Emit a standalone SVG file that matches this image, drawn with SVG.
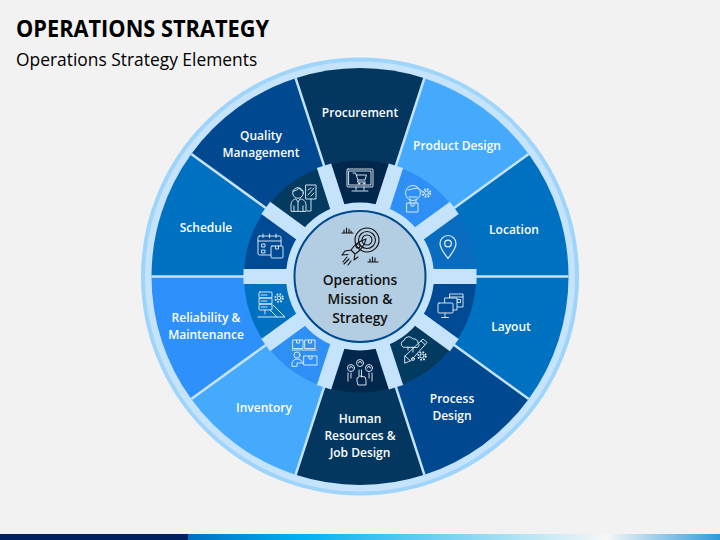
<svg xmlns="http://www.w3.org/2000/svg" width="720" height="540" viewBox="0 0 720 540">
<defs>
<linearGradient id="bar" x1="0" x2="1" y1="0" y2="0">
<stop offset="0" stop-color="#0070C0"/><stop offset="0.21" stop-color="#00B0F0"/><stop offset="0.786" stop-color="#F7F7F7"/><stop offset="1" stop-color="#2E9BDC"/>
</linearGradient>
</defs>
<style>
text{font-family:"Open Sans","Liberation Sans",sans-serif}
.l{font-size:12px;font-weight:600;fill:#fff;text-anchor:middle}
.c{font-size:13.8px;font-weight:600;fill:#111;text-anchor:middle}
.i{fill:none;stroke:#E8F1F8;stroke-width:.9;stroke-linejoin:round;stroke-linecap:round}
.k{fill:none;stroke:#111;stroke-width:1.1;stroke-linejoin:round;stroke-linecap:round}
.b{stroke:#C5E3FB;stroke-width:15;fill:none}
.t{stroke:#C5E3FB;stroke-width:2.5;fill:none}
.g{stroke-dasharray:1.6 1.4;stroke-width:1.8;stroke-linecap:butt}
</style>
<rect width="720" height="540" fill="#F2F2F2"/>
<rect x="0" y="534" width="188" height="6" fill="#002060"/>
<rect x="188" y="534" width="532" height="6" fill="url(#bar)"/>
<text x="16" y="36.500" font-size="23" font-weight="700" fill="#000" textLength="253" lengthAdjust="spacingAndGlyphs">OPERATIONS STRATEGY</text>
<text x="16" y="66" font-size="17.400" fill="#000">Operations Strategy Elements</text>
<circle cx="360" cy="276.500" r="217" fill="#C5E3FB" stroke="#9FD4FB" stroke-width="4"/>
<g id="n-procurement"><path fill="#03375F" d="M360 276.500L295.600 78.200A208.500 208.500 0 0 1 424.400 78.200Z"/><path fill="#02274D" d="M360 276.500L324.200 166.200A116 116 0 0 1 395.800 166.200Z"/>
<text class="l" x="360" y="117">Procurement</text>
<g class="i"><rect x="347" y="169" width="26" height="18" rx="1"/><rect x="349" y="171" width="22" height="14"/><path d="M356 187v3M364 187v3M352 191h16M353 173h2.500l2.500 7h7l1.500-5h-10M358 180l-.5 2h8"/><circle cx="359" cy="183.500" r=".8"/><circle cx="364" cy="183.500" r=".8"/></g></g>
<g id="n-product-design"><path fill="#45AAFC" d="M360 276.500L424.400 78.200A208.500 208.500 0 0 1 528.700 154Z"/><path fill="#2E90F5" d="M360 276.500L395.800 166.200A116 116 0 0 1 453.800 208.300Z"/>
<text class="l" x="457" y="150">Product Design</text>
<g class="i"><circle cx="413" cy="193" r="7.500"/><path d="M408 190l9-2 5 3M410 199v4M416 199v4M409 197h8M407 203h11v9h-11zM411 203v3h3v-3"/><circle cx="426.500" cy="193" r="2"/><circle class="g" cx="426.500" cy="193" r="3.800"/></g></g>
<g id="n-location"><path fill="#0070C0" d="M360 276.500L528.700 154A208.500 208.500 0 0 1 568.500 276.500Z"/><path fill="#0A6CBE" d="M360 276.500L453.800 208.300A116 116 0 0 1 476 276.500Z"/>
<text class="l" x="514" y="234">Location</text>
<g class="i" style="stroke-width:1.200"><path d="M448 258.500c-4-5.500-8-10-8-15a8 8 0 0 1 16 0c0 5-4 9.500-8 15z"/><circle cx="448" cy="243.500" r="3.300"/></g></g>
<g id="n-layout"><path fill="#0070C0" d="M360 276.500L568.500 276.500A208.500 208.500 0 0 1 528.700 399Z"/><path fill="#004A94" d="M360 276.500L476 276.500A116 116 0 0 1 453.800 344.700Z"/>
<text class="l" x="511" y="331">Layout</text>
<g class="i"><rect x="450" y="294" width="13" height="13" fill="#004A94"/><path d="M450 297h13M452.500 299.500h3v3h-3zM457.500 299.500h3v3h-3z"/><rect x="445" y="298" width="12" height="12" fill="#004A94"/><rect x="438" y="303" width="15" height="10" rx="1" fill="#004A94"/><path d="M445 313v4M441.500 317.500h7"/></g></g>
<g id="n-process-design"><path fill="#004990" d="M360 276.500L528.700 399A208.500 208.500 0 0 1 424.400 474.800Z"/><path fill="#033A60" d="M360 276.500L453.800 344.700A116 116 0 0 1 395.800 386.800Z"/>
<text class="l" x="452" y="403">Process</text><text class="l" x="452" y="420">Design</text>
<g class="i"><path d="M403 347a3.500 3.500 0 0 1 1-6.500 5 5 0 0 1 9-1.500 4 4 0 0 1 5 4 2.500 2.500 0 0 1-1 4.500zM408 347v3M413 347v5M405 356l18-17 4 3.500-16 18-6 2.500zM405 356l5 4.500M421 341l4 3.500"/><circle cx="422" cy="356" r="2"/><circle class="g" cx="422" cy="356" r="3.800"/><circle cx="413" cy="359" r="1.500"/></g></g>
<g id="n-human-resources"><path fill="#03375F" d="M360 276.500L424.400 474.800A208.500 208.500 0 0 1 295.600 474.800Z"/><path fill="#02274D" d="M360 276.500L395.800 386.800A116 116 0 0 1 324.200 386.800Z"/>
<text class="l" x="360" y="423">Human</text><text class="l" x="360" y="440">Resources &amp;</text><text class="l" x="360" y="457">Job Design</text>
<g class="i"><circle cx="351" cy="368" r="3.500"/><circle cx="360" cy="363" r="3.500"/><circle cx="369" cy="368" r="3.500"/><path d="M349.500 368a1.500 1.500 0 0 1 3 0M358.500 363a1.500 1.500 0 0 1 3 0M367.500 368a1.500 1.500 0 0 1 3 0M348 373v8M351 373v5M369 373v5M372 373v8M359 370v7l-2 1v3l1 4h8v-5l-1-3-5-1M361.500 370v7"/></g></g>
<g id="n-inventory"><path fill="#45AAFC" d="M360 276.500L295.600 474.800A208.500 208.500 0 0 1 191.300 399Z"/><path fill="#2E90F5" d="M360 276.500L324.200 386.800A116 116 0 0 1 266.200 344.700Z"/>
<text class="l" x="264" y="412">Inventory</text>
<g class="i"><rect x="293" y="340" width="10" height="8.500"/><rect x="305" y="340" width="10" height="8.500"/><path d="M296.500 340v3h3v-3M308.500 340v3h3v-3M292 350h24"/><rect x="304" y="356" width="13" height="9"/><path d="M309 356v3h3v-3"/><circle cx="297" cy="355" r="3"/><path d="M292 366v-2a5 5 0 0 1 5-5c3 0 5 2 6 4h-6v3z"/></g></g>
<g id="n-reliability"><path fill="#2E90FA" d="M360 276.500L191.300 399A208.500 208.500 0 0 1 151.500 276.500Z"/><path fill="#0070C0" d="M360 276.500L266.200 344.700A116 116 0 0 1 244 276.500Z"/>
<text class="l" x="206" y="322">Reliability &amp;</text><text class="l" x="206" y="339">Maintenance</text>
<g class="i"><rect x="259" y="292" width="13" height="6" rx="1"/><rect x="259" y="298" width="13" height="6" rx="1"/><rect x="259" y="304" width="13" height="6" rx="1"/><path d="M261 295h6M261 301h6M261 307h6M265 310v4M258 317h27l-12-12M277 317l-7-7"/><circle cx="279" cy="298" r="1.800"/><circle class="g" cx="279" cy="298" r="3.800"/></g></g>
<g id="n-schedule"><path fill="#0070C0" d="M360 276.500L151.500 276.500A208.500 208.500 0 0 1 191.300 154Z"/><path fill="#004A94" d="M360 276.500L244 276.500A116 116 0 0 1 266.200 208.300Z"/>
<text class="l" x="206" y="232">Schedule</text>
<g class="i"><rect x="258" y="236" width="23" height="19" rx="1.500"/><path d="M258 241h23M263 234v3.500M269.500 234v3.500M276 234v3.500"/><rect x="262" y="244" width="3" height="3"/><rect x="262" y="250" width="3" height="3"/><rect x="271" y="246" width="12" height="12" rx="1" fill="#004A94"/><path d="M275.500 246v3h3v-3"/></g></g>
<g id="n-quality"><path fill="#004990" d="M360 276.500L191.300 154A208.500 208.500 0 0 1 295.600 78.200Z"/><path fill="#033A60" d="M360 276.500L266.200 208.300A116 116 0 0 1 324.200 166.200Z"/>
<text class="l" x="261" y="140">Quality</text><text class="l" x="261" y="157">Management</text>
<g class="i"><circle cx="298" cy="193" r="5.300"/><path d="M293 191c2 0 5-1 6-3 1 2 3 3 4 3M291 211v-6c0-4 3-6 5-6l2 3 2-3c3 0 6 2 6 6v6zM294 211v-5M303 211v-5M298 202v9"/><rect x="306" y="185" width="10" height="14"/><path d="M308 195l6-7M308 190l3-2M311 196l3-3M311 199v12h-4"/></g></g>
<g id="connectors">
<path class="t" d="M324.200 166.200L295.600 78.200"/>
<path class="t" d="M395.800 166.200L424.400 78.200"/>
<path class="t" d="M453.800 208.300L528.700 154"/>
<path class="t" d="M476 276.500L568.500 276.500"/>
<path class="t" d="M453.800 344.700L528.700 399"/>
<path class="t" d="M395.800 386.800L424.400 474.800"/>
<path class="t" d="M324.200 386.800L295.600 474.800"/>
<path class="t" d="M266.200 344.700L191.300 399"/>
<path class="t" d="M244 276.500L151.500 276.500"/>
<path class="t" d="M266.200 208.300L191.300 154"/>
<g id="bars">
<path class="b" d="M360 276.500L324 165.700"/><path class="b" d="M360 276.500L396 165.700"/><path class="b" d="M360 276.500L454.300 207.900"/><path class="b" d="M360 276.500L476.500 276.500"/><path class="b" d="M360 276.500L454.300 345.100"/><path class="b" d="M360 276.500L396 387.300"/><path class="b" d="M360 276.500L324 387.300"/><path class="b" d="M360 276.500L265.700 345.100"/><path class="b" d="M360 276.500L243.500 276.500"/><path class="b" d="M360 276.500L265.700 207.900"/>
</g>
</g>
<g id="center">
<circle cx="360" cy="276.500" r="74" fill="#C5E3FB"/>
<circle cx="360" cy="276.500" r="65.500" fill="#B3CDE3" stroke="#004990" stroke-width="2"/>
<g class="k"><circle cx="367" cy="240" r="12"/><circle cx="367" cy="240" r="8.500"/><circle cx="367" cy="240" r="5"/><path d="M351 250c3-5 9-9 15-11-1 6-6 12-11 15zM351 250l-6 1-3 4 6-.5M355 254l-1 6 4-3M347 257l-4 5M349 259l-5 5M351 261l-3 4M342 233h11M344 233v-3M346.500 233v-5M349 233v-4M351 233v-2M368 262h10M370 262v-3M372.500 262v-5M375 262v-4"/><circle cx="358" cy="246" r="2"/></g>
<text class="c" x="360" y="285">Operations</text><text class="c" x="360" y="304">Mission &amp;</text><text class="c" x="360" y="323">Strategy</text>
</g>
</svg>
